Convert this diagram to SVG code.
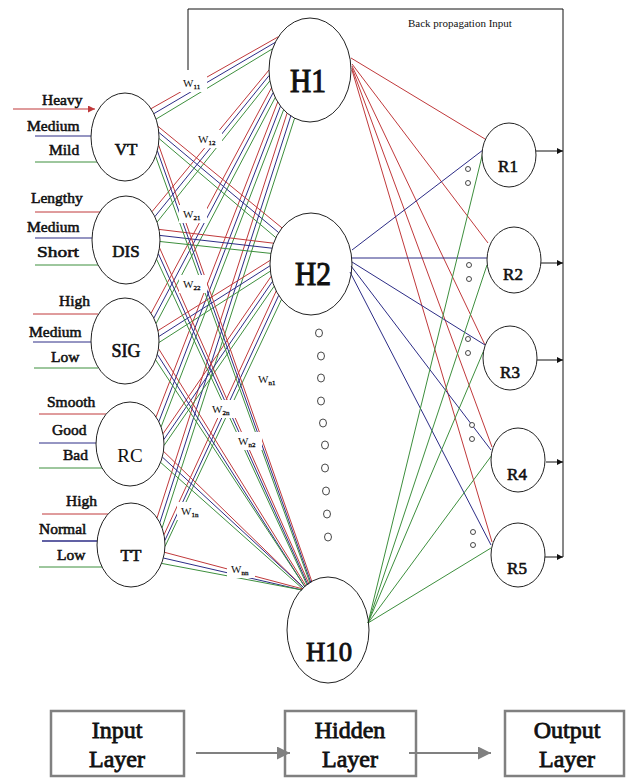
<svg xmlns="http://www.w3.org/2000/svg" width="627" height="778" viewBox="0 0 627 778">
<style>
  text { font-family: "Liberation Serif", "Times New Roman", serif; fill: #111; font-weight: normal; }
  .bd { stroke: #111; stroke-width: 0.6; }
  .lab { font-size: 15.5px; stroke: #111; stroke-width: 0.55; }
  .nd { fill: #fff; stroke: #222; stroke-width: 1; }
  .w { font-size: 11px; }
  .ws { font-size: 7px; stroke: #111; stroke-width: 0.3; }
  .wbg { fill: #fff; stroke: none; }
  #connectors line, #outlinks line { stroke-width: 1; fill: none; }
  .r { stroke: #c0393b; }
  .b { stroke: #2c2c86; }
  .g { stroke: #3d8f3d; }
  .k { stroke: #111; stroke-width: 1; fill: none; }
  .box { fill: #fff; stroke: #808080; stroke-width: 2.5; }
  .bt { font-size: 24px; text-anchor: middle; stroke: #111; stroke-width: 0.8; }
  .dot { fill: #fff; stroke: #333; stroke-width: 0.9; }
</style>
<defs>
  <marker id="ak" viewBox="0 0 10 10" refX="10" refY="5" markerWidth="7" markerHeight="6" markerUnits="userSpaceOnUse" orient="auto"><path d="M0,0 L10,5 L0,10 z" fill="#111"/></marker>
  <marker id="ar" viewBox="0 0 10 10" refX="10" refY="5" markerWidth="8" markerHeight="7" markerUnits="userSpaceOnUse" orient="auto"><path d="M0,0 L10,5 L0,10 z" fill="#c0393b"/></marker>
  <marker id="ag" viewBox="0 0 10 10" refX="10" refY="5" markerWidth="13" markerHeight="13" markerUnits="userSpaceOnUse" orient="auto"><path d="M0,0 L10,5 L0,10 z" fill="#808080"/></marker>
</defs>
<rect width="627" height="778" fill="#fff"/>

<!-- back propagation frame -->
<g id="backprop">
  <polyline class="k" points="188,70 188,9 563,9 563,557"/>
  <text x="408" y="27" style="font-size:11px">Back propagation Input</text>
</g>

<!-- input-side lines -->
<g id="inputs-lines">
  <line class="r" x1="13" y1="109" x2="95" y2="109" stroke-width="1.2" marker-end="url(#ar)"/>
  <line class="b" x1="35" y1="136" x2="91" y2="136" stroke-width="1.2"/>
  <line class="g" x1="35" y1="162" x2="97" y2="162"/>
  <line class="r" x1="35" y1="212" x2="100" y2="212"/>
  <line class="b" x1="35" y1="238" x2="92" y2="238" stroke-width="1.2"/>
  <line class="g" x1="35" y1="265" x2="98" y2="265"/>
  <line class="r" x1="33" y1="314" x2="98" y2="314"/>
  <line class="b" x1="33" y1="342" x2="91" y2="342"/>
  <line class="g" x1="34" y1="368" x2="98" y2="368"/>
  <line class="r" x1="39" y1="414" x2="106" y2="414"/>
  <line class="b" x1="39" y1="443" x2="96" y2="443"/>
  <line class="g" x1="39" y1="468" x2="102" y2="468"/>
  <line class="r" x1="42" y1="514" x2="108" y2="514"/>
  <line class="b" x1="42" y1="541" x2="97" y2="541" stroke-width="1.6"/>
  <line class="g" x1="39" y1="567" x2="102" y2="567"/>
</g>

<!-- input to hidden connectors -->
<g id="connectors">
  <!-- to H1 -->
  <line class="r" x1="151.0" y1="108.7" x2="278.6" y2="36.6"/>
  <line class="b" x1="153.8" y1="113.7" x2="275.2" y2="42.4"/>
  <line class="g" x1="156.1" y1="119.1" x2="272.5" y2="48.8"/>
  <line class="r" x1="152.0" y1="211.7" x2="269.0" y2="70.0"/>
  <line class="b" x1="154.8" y1="216.7" x2="269.2" y2="75.4"/>
  <line class="g" x1="157.1" y1="222.1" x2="269.9" y2="80.8"/>
  <line class="r" x1="151.0" y1="313.4" x2="271.5" y2="87.8"/>
  <line class="b" x1="153.8" y1="318.2" x2="273.1" y2="92.8"/>
  <line class="g" x1="156.1" y1="323.5" x2="275.2" y2="97.6"/>
  <line class="r" x1="156.0" y1="417.0" x2="277.7" y2="102.0"/>
  <line class="b" x1="158.8" y1="421.7" x2="280.5" y2="106.1"/>
  <line class="g" x1="161.1" y1="426.9" x2="283.6" y2="109.8"/>
  <line class="r" x1="157.0" y1="518.0" x2="287.1" y2="113.1"/>
  <line class="b" x1="159.8" y1="522.7" x2="290.8" y2="115.9"/>
  <line class="g" x1="162.1" y1="527.9" x2="294.6" y2="118.2"/>
  <!-- to H2 -->
  <line class="r" x1="158.0" y1="126.4" x2="282.0" y2="227.9"/>
  <line class="b" x1="158.8" y1="132.4" x2="278.7" y2="232.6"/>
  <line class="g" x1="159.0" y1="138.5" x2="275.9" y2="237.7"/>
  <line class="r" x1="159.0" y1="229.4" x2="273.5" y2="243.2"/>
  <line class="b" x1="159.8" y1="235.4" x2="272.0" y2="248.2"/>
  <line class="g" x1="160.0" y1="241.5" x2="270.9" y2="253.4"/>
  <line class="r" x1="158.0" y1="330.6" x2="270.1" y2="260.4"/>
  <line class="b" x1="158.8" y1="336.5" x2="270.0" y2="265.8"/>
  <line class="g" x1="159.0" y1="342.5" x2="270.4" y2="271.1"/>
  <line class="r" x1="163.0" y1="433.8" x2="271.2" y2="276.3"/>
  <line class="b" x1="163.8" y1="439.6" x2="272.5" y2="281.4"/>
  <line class="g" x1="164.0" y1="445.5" x2="274.1" y2="286.3"/>
  <line class="r" x1="164.0" y1="534.8" x2="276.2" y2="291.0"/>
  <line class="b" x1="164.8" y1="540.6" x2="278.7" y2="295.4"/>
  <line class="g" x1="165.0" y1="546.5" x2="281.5" y2="299.4"/>
  <!-- to H10 -->
  <line class="r" x1="158.5" y1="144.7" x2="312" y2="582"/>
  <line class="b" x1="157.3" y1="150.6" x2="311" y2="583"/>
  <line class="g" x1="155.6" y1="156.3" x2="310" y2="583"/>
  <line class="r" x1="159.5" y1="247.7" x2="309" y2="584"/>
  <line class="b" x1="158.3" y1="253.6" x2="308" y2="585"/>
  <line class="g" x1="156.6" y1="259.3" x2="307" y2="585"/>
  <line class="r" x1="158.5" y1="348.5" x2="306" y2="586"/>
  <line class="b" x1="157.3" y1="354.3" x2="305" y2="587"/>
  <line class="g" x1="155.6" y1="359.8" x2="305" y2="587"/>
  <line class="r" x1="163.5" y1="451.3" x2="304" y2="588"/>
  <line class="b" x1="162.3" y1="457.0" x2="304" y2="588"/>
  <line class="g" x1="160.6" y1="462.4" x2="303" y2="589"/>
  <line class="r" x1="164.5" y1="552.3" x2="303" y2="589"/>
  <line class="b" x1="163.3" y1="558.0" x2="302" y2="590"/>
  <line class="g" x1="161.6" y1="563.4" x2="302" y2="590"/>
</g>

<!-- hidden to output connectors -->
<g id="outlinks">
  <line class="r" x1="351" y1="58" x2="485" y2="139"/>
  <line class="r" x1="352" y1="64" x2="488" y2="243"/>
  <line class="r" x1="352" y1="66" x2="485" y2="345"/>
  <line class="r" x1="352" y1="68" x2="492" y2="447"/>
  <line class="r" x1="352" y1="70" x2="492" y2="542"/>
  <line class="b" x1="352" y1="250" x2="483" y2="150"/>
  <line class="b" x1="352" y1="258" x2="487" y2="258"/>
  <line class="b" x1="352" y1="262" x2="485" y2="345"/>
  <line class="b" x1="351" y1="266" x2="491" y2="450"/>
  <line class="b" x1="350" y1="272" x2="491" y2="545"/>
  <line class="g" x1="368" y1="623" x2="483" y2="152"/>
  <line class="g" x1="368" y1="623" x2="487" y2="265"/>
  <line class="g" x1="368" y1="623" x2="484" y2="350"/>
  <line class="g" x1="368" y1="623" x2="492" y2="455"/>
  <line class="g" x1="368" y1="623" x2="491" y2="548"/>
  <line class="k" x1="536" y1="151" x2="563" y2="151" marker-end="url(#ak)"/>
  <line class="k" x1="541" y1="263" x2="563" y2="263" marker-end="url(#ak)"/>
  <line class="k" x1="537" y1="360" x2="563" y2="360" marker-end="url(#ak)"/>
  <line class="k" x1="546" y1="462" x2="563" y2="462" marker-end="url(#ak)"/>
  <line class="k" x1="545" y1="557" x2="563" y2="557" marker-end="url(#ak)"/>
</g>

<!-- weight labels -->
<g id="weights">
  <rect class="wbg" x="179" y="74" width="28" height="18"/>
  <text class="w" x="183" y="87">W<tspan class="ws" dy="2">11</tspan></text>
  <rect class="wbg" x="194" y="130" width="28" height="18"/>
  <text class="w" x="198" y="143">W<tspan class="ws" dy="2">12</tspan></text>
  <rect class="wbg" x="179" y="205" width="28" height="18"/>
  <text class="w" x="183" y="218">W<tspan class="ws" dy="2">21</tspan></text>
  <rect class="wbg" x="179" y="275" width="28" height="18"/>
  <text class="w" x="183" y="288">W<tspan class="ws" dy="2">22</tspan></text>
  <rect class="wbg" x="254" y="370" width="28" height="18"/>
  <text class="w" x="258" y="383">W<tspan class="ws" dy="2">n1</tspan></text>
  <rect class="wbg" x="208" y="400" width="28" height="18"/>
  <text class="w" x="212" y="413">W<tspan class="ws" dy="2">2n</tspan></text>
  <rect class="wbg" x="234" y="432" width="28" height="18"/>
  <text class="w" x="238" y="445">W<tspan class="ws" dy="2">n2</tspan></text>
  <rect class="wbg" x="177" y="502" width="28" height="18"/>
  <text class="w" x="181" y="515">W<tspan class="ws" dy="2">1n</tspan></text>
  <rect class="wbg" x="227" y="560" width="28" height="18"/>
  <text class="w" x="231" y="573">W<tspan class="ws" dy="2">nn</tspan></text>
</g>

<!-- input nodes -->
<g id="VT">
  <ellipse class="nd" cx="125" cy="137" rx="34" ry="44"/>
  <text class="bd" x="126" y="155" text-anchor="middle" style="font-size:17px">VT</text>
  <text class="lab" x="42" y="105">Heavy</text>
  <text class="lab" x="27" y="131">Medium</text>
  <text class="lab" x="49" y="155">Mild</text>
</g>
<g id="DIS">
  <ellipse class="nd" cx="126" cy="240" rx="34" ry="44"/>
  <text class="bd" x="126" y="257" text-anchor="middle" style="font-size:17px">DIS</text>
  <text class="lab" x="31" y="203">Lengthy</text>
  <text class="lab" x="27" y="232">Medium</text>
  <text class="lab" x="37" y="257" textLength="42" lengthAdjust="spacingAndGlyphs">Short</text>
</g>
<g id="SIG">
  <ellipse class="nd" cx="125" cy="341" rx="34" ry="43"/>
  <text class="bd" x="126" y="357" text-anchor="middle" style="font-size:18px">SIG</text>
  <text class="lab" x="59" y="306">High</text>
  <text class="lab" x="29" y="337">Medium</text>
  <text class="lab" x="51" y="362">Low</text>
</g>
<g id="RC">
  <ellipse class="nd" cx="130" cy="444" rx="34" ry="42"/>
  <text x="130" y="462" text-anchor="middle" style="font-size:19px">RC</text>
  <text class="lab" x="47" y="407">Smooth</text>
  <text class="lab" x="52" y="435">Good</text>
  <text class="lab" x="63" y="460">Bad</text>
</g>
<g id="TT">
  <ellipse class="nd" cx="131" cy="545" rx="34" ry="42"/>
  <text class="bd" x="131" y="561" text-anchor="middle" style="font-size:17px">TT</text>
  <text class="lab" x="66" y="506">High</text>
  <text class="lab" x="39" y="534">Normal</text>
  <text class="lab" x="57" y="560">Low</text>
</g>

<!-- hidden nodes -->
<g id="H1">
  <ellipse class="nd" cx="310" cy="70" rx="41" ry="52" style="fill:none"/>
  <text x="308" y="92" text-anchor="middle" textLength="36" lengthAdjust="spacingAndGlyphs" style="font-size:34px;stroke:#111;stroke-width:1.1">H1</text>
</g>
<g id="H2">
  <ellipse class="nd" cx="311" cy="264" rx="41" ry="51" style="fill:none"/>
  <text x="313" y="285" text-anchor="middle" textLength="36" lengthAdjust="spacingAndGlyphs" style="font-size:34px;stroke:#111;stroke-width:1.1">H2</text>
</g>
<g id="hdots">
  <ellipse class="dot" cx="319" cy="333" rx="3.5" ry="4"/>
  <ellipse class="dot" cx="321" cy="356" rx="3.5" ry="4"/>
  <ellipse class="dot" cx="321" cy="378" rx="3.5" ry="4"/>
  <ellipse class="dot" cx="321" cy="401" rx="3.5" ry="4"/>
  <ellipse class="dot" cx="323" cy="423" rx="3.5" ry="4"/>
  <ellipse class="dot" cx="325" cy="445" rx="3.5" ry="4"/>
  <ellipse class="dot" cx="325" cy="468" rx="3.5" ry="4"/>
  <ellipse class="dot" cx="326" cy="491" rx="3.5" ry="4"/>
  <ellipse class="dot" cx="327" cy="514" rx="3.5" ry="4"/>
  <ellipse class="dot" cx="328" cy="537" rx="3.5" ry="4"/>
</g>
<g id="H10">
  <ellipse class="nd" cx="328" cy="630" rx="41" ry="53" style="fill:none"/>
  <text x="329" y="661" text-anchor="middle" textLength="46" lengthAdjust="spacingAndGlyphs" style="font-size:27px;stroke:#111;stroke-width:0.9">H10</text>
</g>

<!-- output nodes -->
<g id="R1">
  <ellipse class="nd" cx="509" cy="155" rx="27" ry="32"/>
  <text class="bd" x="508" y="172" text-anchor="middle" style="font-size:17px">R1</text>
</g>
<g id="R2">
  <ellipse class="nd" cx="514" cy="260" rx="27" ry="33"/>
  <text class="bd" x="513" y="280" text-anchor="middle" style="font-size:17px">R2</text>
</g>
<g id="R3">
  <ellipse class="nd" cx="510" cy="358" rx="27" ry="32"/>
  <text class="bd" x="510" y="378" text-anchor="middle" style="font-size:17px">R3</text>
</g>
<g id="R4">
  <ellipse class="nd" cx="518" cy="460" rx="27" ry="32"/>
  <text class="bd" x="517" y="480" text-anchor="middle" style="font-size:17px">R4</text>
</g>
<g id="R5">
  <ellipse class="nd" cx="518" cy="555" rx="27" ry="32"/>
  <text class="bd" x="517" y="574" text-anchor="middle" style="font-size:17px">R5</text>
</g>
<g id="odots">
  <circle class="dot" cx="468" cy="169" r="2.5"/>
  <circle class="dot" cx="468" cy="183" r="2.5"/>
  <circle class="dot" cx="469" cy="265" r="2.5"/>
  <circle class="dot" cx="469" cy="279" r="2.5"/>
  <circle class="dot" cx="468" cy="339" r="2.5"/>
  <circle class="dot" cx="468" cy="353" r="2.5"/>
  <circle class="dot" cx="472" cy="425" r="2.5"/>
  <circle class="dot" cx="472" cy="439" r="2.5"/>
  <circle class="dot" cx="473" cy="532" r="2.5"/>
  <circle class="dot" cx="473" cy="545" r="2.5"/>
</g>

<!-- legend -->
<g id="input-layer">
  <rect class="box" x="51" y="711" width="133" height="65"/>
  <text class="bt" x="117" y="738">Input</text>
  <text class="bt" x="117" y="767">Layer</text>
</g>
<g id="hidden-layer">
  <rect class="box" x="285" y="711" width="131" height="65"/>
  <text class="bt" x="350" y="738">Hidden</text>
  <text class="bt" x="350" y="767">Layer</text>
</g>
<g id="output-layer">
  <rect class="box" x="505" y="711" width="119" height="65"/>
  <text class="bt" x="567" y="738">Output</text>
  <text class="bt" x="567" y="767">Layer</text>
</g>
<g id="legend-arrows">
  <line x1="196" y1="753" x2="290" y2="753" stroke="#808080" stroke-width="2" marker-end="url(#ag)"/>
  <line x1="409" y1="753" x2="491" y2="753" stroke="#808080" stroke-width="2" marker-end="url(#ag)"/>
</g>
</svg>
